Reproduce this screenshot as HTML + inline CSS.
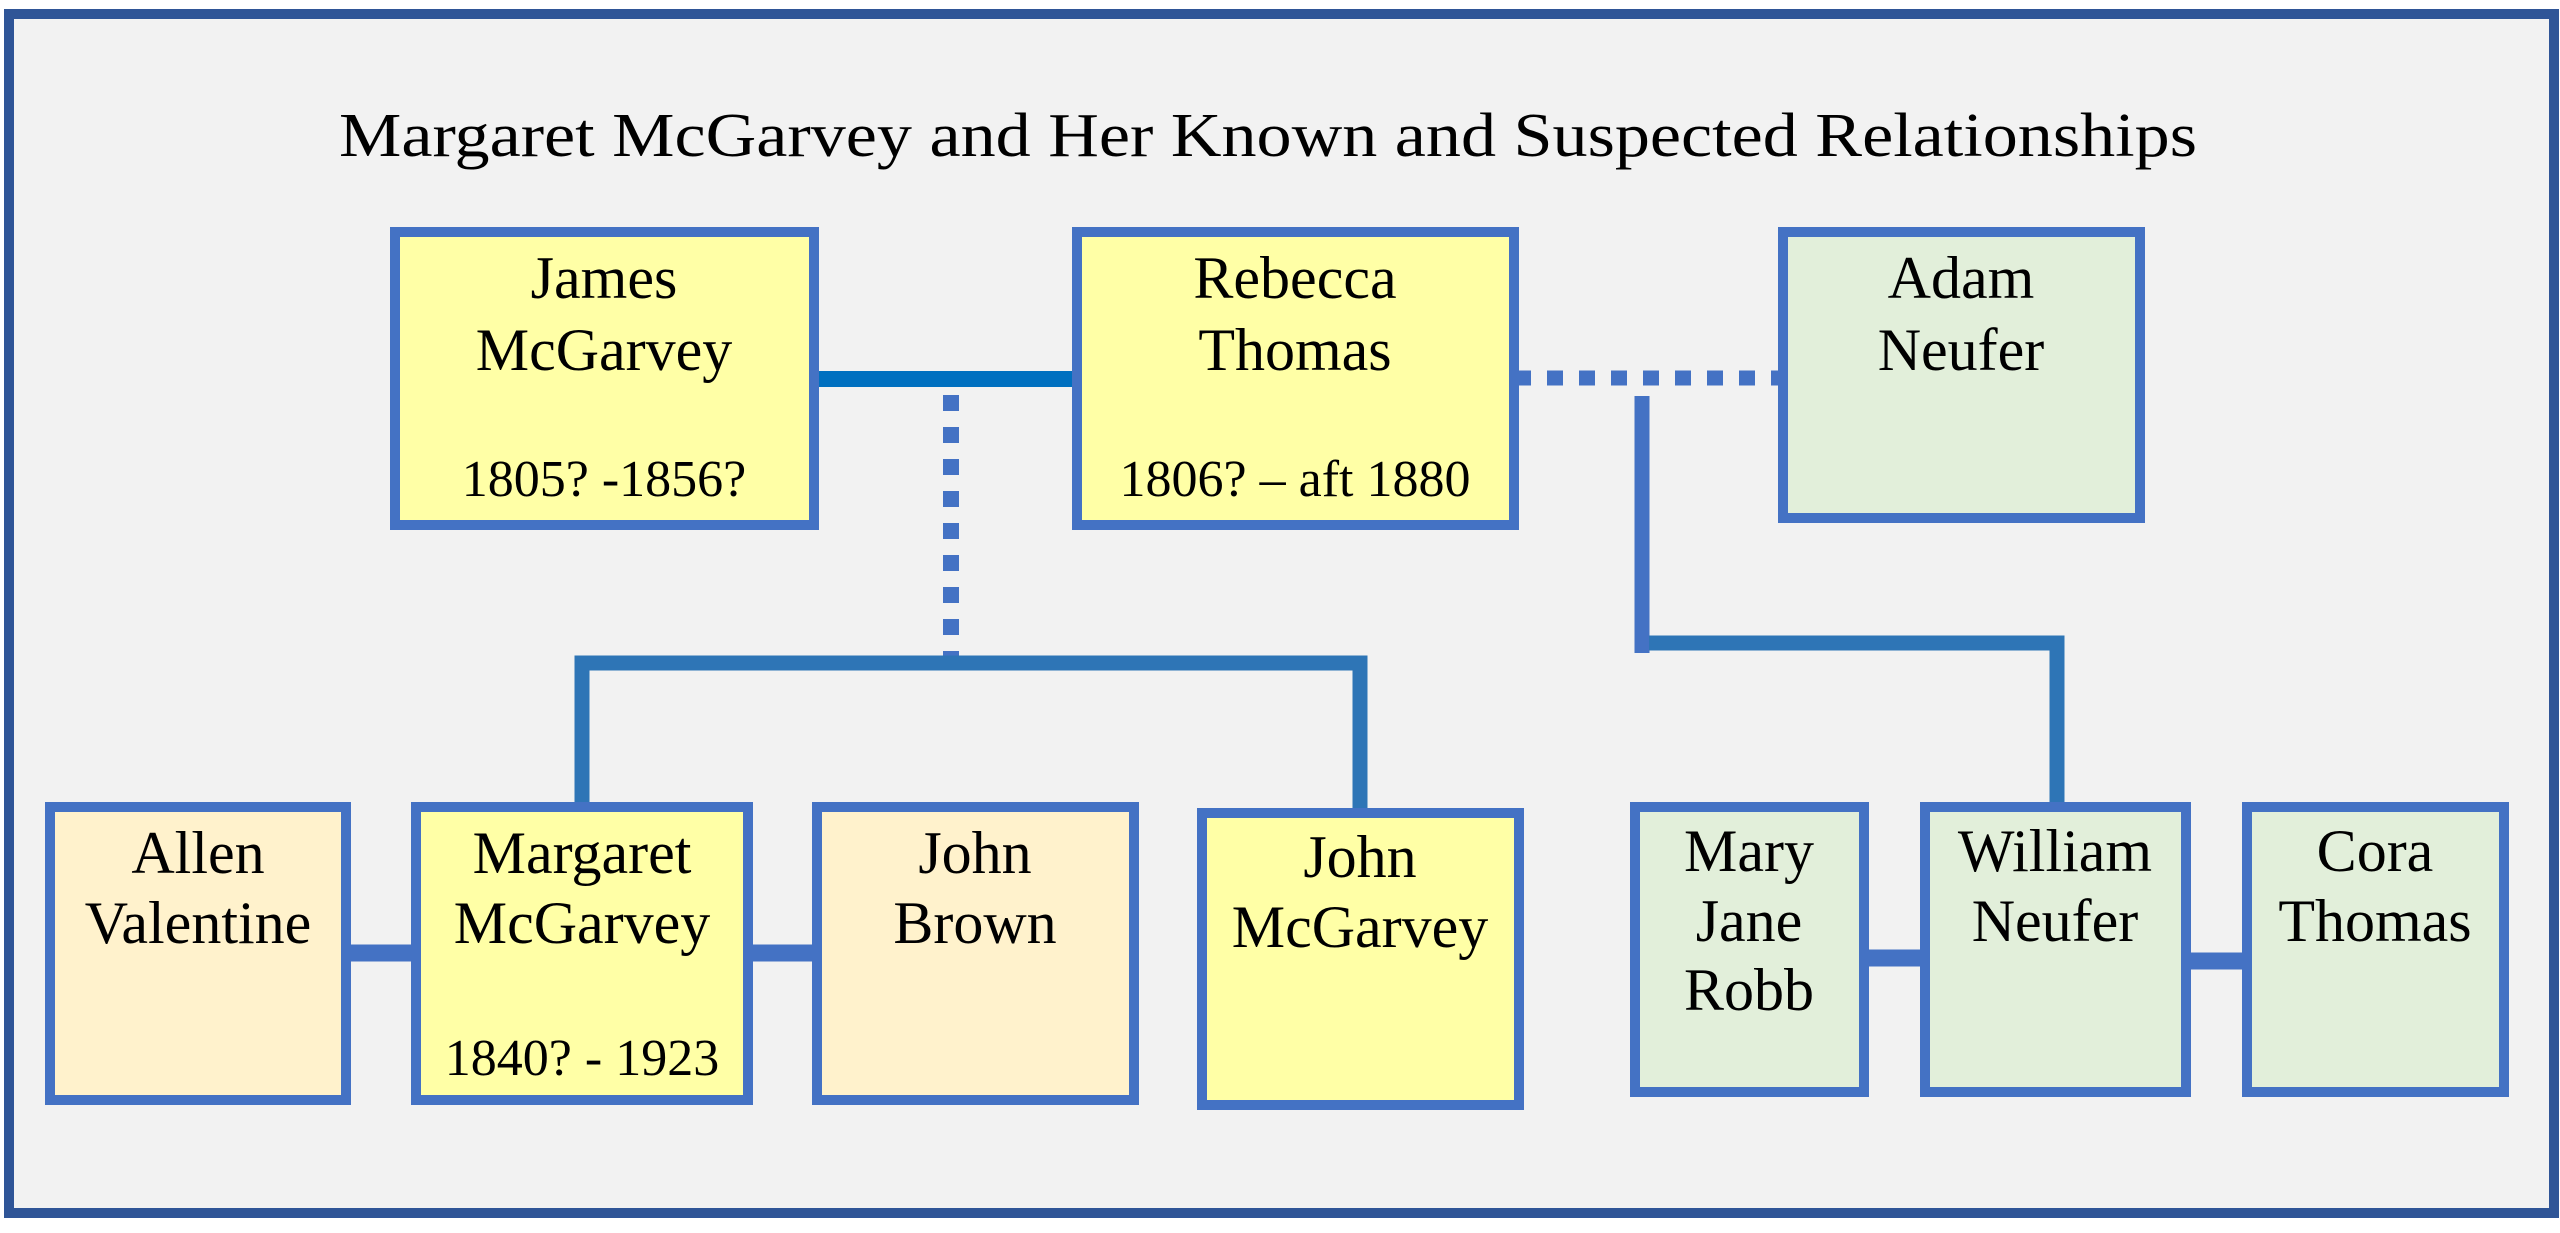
<!DOCTYPE html>
<html><head><meta charset="utf-8"><style>
html,body{margin:0;padding:0;background:#fff;}
svg{display:block;}
text{font-family:"Liberation Serif",serif;fill:#000;}
</style></head><body>
<svg width="2560" height="1233" viewBox="0 0 2560 1233" xmlns="http://www.w3.org/2000/svg">
<rect x="0" y="0" width="2560" height="1233" fill="#fff"/>
<rect x="9" y="14" width="2545" height="1199" fill="#F2F2F2" stroke="#2F5597" stroke-width="10"/>
<text x="1268" y="156" font-size="62" text-anchor="middle" textLength="1858" lengthAdjust="spacingAndGlyphs">Margaret McGarvey and Her Known and Suspected Relationships</text>

<line x1="815" y1="379" x2="1076" y2="379" stroke="#0070C0" stroke-width="16"/>
<line x1="951" y1="395" x2="951" y2="661" stroke="#4472C4" stroke-width="16" stroke-dasharray="16 16"/>
<line x1="1515" y1="378" x2="1782" y2="378" stroke="#4472C4" stroke-width="15" stroke-dasharray="16 16"/>
<polyline points="582,805 582,663 1360,663 1360,810" fill="none" stroke="#2E75B6" stroke-width="15"/>
<line x1="1642" y1="396" x2="1642" y2="653" stroke="#4472C4" stroke-width="15"/>
<polyline points="1649,643 2057,643 2057,804" fill="none" stroke="#2E75B6" stroke-width="15"/>
<line x1="348" y1="953" x2="413" y2="953" stroke="#4472C4" stroke-width="17"/>
<line x1="751" y1="953" x2="817" y2="953" stroke="#4472C4" stroke-width="17"/>
<line x1="1866" y1="958" x2="1922" y2="958" stroke="#4472C4" stroke-width="17"/>
<line x1="2187" y1="961" x2="2245" y2="961" stroke="#4472C4" stroke-width="17"/>

<g stroke="#4472C4" stroke-width="10">
<rect x="395" y="232" width="419" height="293" fill="#FFFFA6"/>
<rect x="1077" y="232" width="437" height="293" fill="#FFFFA6"/>
<rect x="1783" y="232" width="357" height="286" fill="#E2EFDA"/>
<rect x="50" y="807" width="296" height="293" fill="#FFF2CC"/>
<rect x="416" y="807" width="332" height="293" fill="#FFFFA6"/>
<rect x="817" y="807" width="317" height="293" fill="#FFF2CC"/>
<rect x="1202" y="813" width="317" height="292" fill="#FFFFA6"/>
<rect x="1635" y="807" width="229" height="285" fill="#E2EFDA"/>
<rect x="1925" y="807" width="261" height="285" fill="#E2EFDA"/>
<rect x="2247" y="807" width="257" height="285" fill="#E2EFDA"/>
</g>

<g font-size="60" text-anchor="middle">
<text x="604" y="298">James</text><text x="604" y="370">McGarvey</text>
<text x="1295" y="298">Rebecca</text><text x="1295" y="370">Thomas</text>
<text x="1961" y="298">Adam</text><text x="1961" y="370">Neufer</text>
<text x="198" y="873">Allen</text><text x="198" y="943">Valentine</text>
<text x="582" y="873">Margaret</text><text x="582" y="943">McGarvey</text>
<text x="975" y="873">John</text><text x="975" y="943">Brown</text>
<text x="1360" y="877">John</text><text x="1360" y="947">McGarvey</text>
<text x="1749" y="871">Mary</text><text x="1749" y="941">Jane</text><text x="1749" y="1010">Robb</text>
<text x="2055" y="871">William</text><text x="2055" y="941">Neufer</text>
<text x="2375" y="871">Cora</text><text x="2375" y="941">Thomas</text>
</g>
<g font-size="52" text-anchor="middle">
<text x="604" y="496">1805? -1856?</text>
<text x="1295" y="496">1806? – aft 1880</text>
<text x="582" y="1075">1840? - 1923</text>
</g>
</svg>
</body></html>
